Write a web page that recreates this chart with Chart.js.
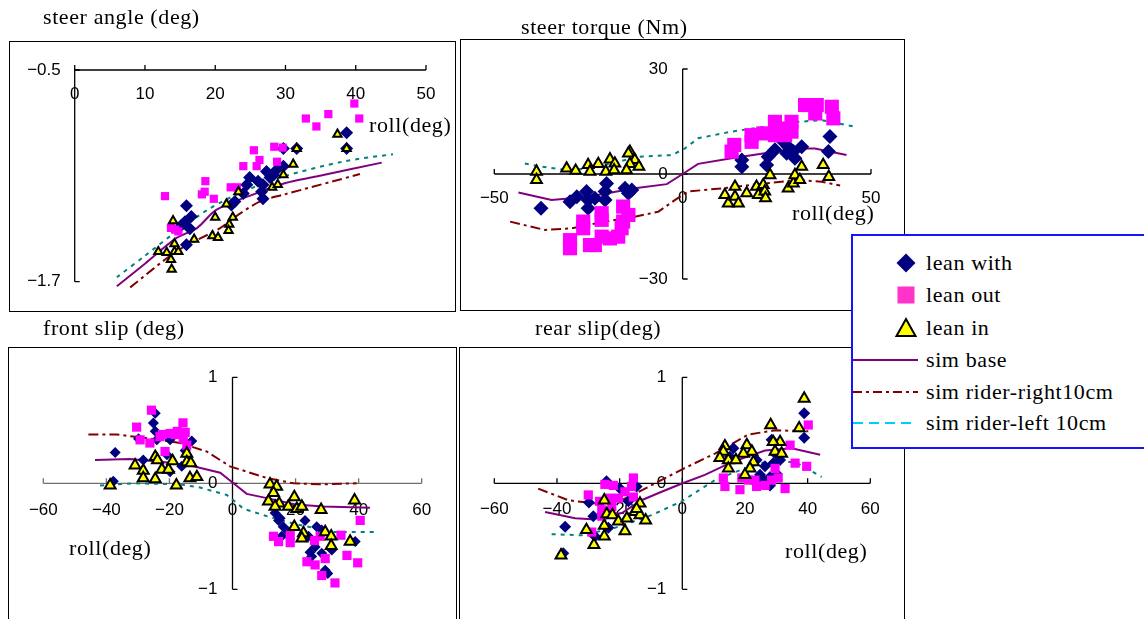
<!DOCTYPE html>
<html>
<head>
<meta charset="utf-8">
<script src="https://cdn.jsdelivr.net/npm/chart.js@4"></script>
<style>
body { margin: 0; width: 1144px; height: 619px; overflow: hidden; background: #fff; position: relative; font-family: "Liberation Serif", "Times New Roman", serif; }
canvas { position: absolute; left: 0; top: 0; }
.frame { position: absolute; border: 1px solid #000; box-sizing: border-box; }
.lbl { position: absolute; font-size: 22px; line-height: 24px; letter-spacing: 0.6px; white-space: nowrap; color: #000; z-index: 3; }
#legend { position: absolute; left: 851px; top: 234px; width: 300px; height: 215px; box-sizing: border-box; border: 2px solid #1414ff; background: #fff; z-index: 5; }
.row { position: absolute; left: 0; width: 300px; height: 32px; }
.row svg { position: absolute; left: 0; top: 0; }
.row span { position: absolute; left: 73px; top: 0; line-height: 32px; font-size: 22px; letter-spacing: 0.6px; white-space: nowrap; }
</style>
</head>
<body>
<div class="frame" style="left:9px;top:41px;width:447px;height:271px"></div>
<div class="frame" style="left:460px;top:39px;width:445px;height:272px"></div>
<div class="frame" style="left:8px;top:347px;width:449px;height:300px"></div>
<div class="frame" style="left:459px;top:347px;width:446px;height:300px"></div>

<canvas id="steerAngle" width="1144" height="619"></canvas>
<canvas id="steerTorque" width="1144" height="619"></canvas>
<canvas id="frontSlip" width="1144" height="619"></canvas>
<canvas id="rearSlip" width="1144" height="619"></canvas>

<div class="lbl" style="left:43px;top:5px">steer angle (deg)</div>
<div class="lbl" style="left:521px;top:15px">steer torque (Nm)</div>
<div class="lbl" style="left:43px;top:316px">front slip (deg)</div>
<div class="lbl" style="left:535px;top:316px">rear slip(deg)</div>
<div class="lbl" style="left:369px;top:113px">roll(deg)</div>
<div class="lbl" style="left:792px;top:201px">roll(deg)</div>
<div class="lbl" style="left:69px;top:536px">roll(deg)</div>
<div class="lbl" style="left:785px;top:539px">roll(deg)</div>

<div id="legend">
  <div class="row" style="top:11px"><svg width="70" height="32"><polygon points="53,6.5 62.5,16 53,25.5 43.5,16" fill="#000080"/></svg><span>lean with</span></div>
  <div class="row" style="top:43px"><svg width="70" height="32"><rect x="44.5" y="7.5" width="17" height="17" fill="#ff33cc"/></svg><span>lean out</span></div>
  <div class="row" style="top:76px"><svg width="70" height="32"><polygon points="53,7 62.5,24 43.5,24" fill="#ffff00" stroke="#000" stroke-width="2"/></svg><span>lean in</span></div>
  <div class="row" style="top:108px"><svg width="70" height="32"><line x1="0" y1="16" x2="65" y2="16" stroke="#800080" stroke-width="2"/></svg><span>sim base</span></div>
  <div class="row" style="top:140px"><svg width="70" height="32"><line x1="0" y1="16" x2="65" y2="16" stroke="#800000" stroke-width="2" stroke-dasharray="9,4,3,4"/></svg><span>sim rider-right10cm</span></div>
  <div class="row" style="top:171px"><svg width="70" height="32"><line x1="0" y1="16" x2="62" y2="16" stroke="#00ccff" stroke-width="2" stroke-dasharray="10,6"/></svg><span>sim rider-left 10cm</span></div>
</div>

<script>
// tick values
const steerXTicks = [0, 10, 20, 30, 40, 50];
const steerYTicks = [-0.5, -1.7];
const torqueXTicks = [-50, 0, 50];
const torqueYTicks = [30, 0, -30];
const slipXTicks = [-60, -40, -20, 0, 20, 40, 60];
const slipYTicks = [1, 0, -1];

// steer angle (deg) vs roll
const steerWith = [[15.9,-1.27],[16.6,-1.33],[15.7,-1.36],[16.4,-1.40],[15.9,-1.49],[15.2,-1.38],
  [24.9,-1.11],[24.5,-1.15],[24.0,-1.20],[22.8,-1.245],[22.3,-1.265],
  [27.3,-1.075],[27.8,-1.11],[26.8,-1.15],[26.6,-1.19],[26.8,-1.23],[28.75,-1.065],[29.7,-1.045],[28.3,-1.095],[26.1,-1.13],
  [29.7,-0.945],[31.6,-0.945],[38.7,-0.855],[38.7,-0.945]];
const steerOut = [[12.85,-1.215],[18.6,-1.13],[18.5,-1.19],[18.1,-1.205],[19.8,-1.23],[13.7,-1.395],[14.3,-1.405],[14.75,-1.415],
  [22.2,-1.165],[23.1,-1.165],[24.0,-1.045],[25.5,-0.955],[26.3,-1.01],[25.9,-1.045],[28.4,-0.935],[29.6,-0.94],[28.8,-1.02],
  [32.9,-0.775],[34.4,-0.82],[36.1,-0.75],[39.8,-0.69],[40.5,-0.775]];
const steerIn = [[14.0,-1.355],[20.0,-1.335],[21.6,-1.26],[23.3,-1.19],[22.5,-1.335],[22.0,-1.375],[21.9,-1.41],[19.6,-1.44],
  [20.4,-1.45],[17.0,-1.46],[14.2,-1.485],[11.9,-1.53],[13.1,-1.535],[14.2,-1.53],[14.75,-1.53],[13.7,-1.575],[13.8,-1.63],
  [28.1,-1.165],[28.9,-1.15],[29.7,-1.095],[31.1,-1.035],[31.6,-0.945],[37.4,-0.865],[38.7,-0.945]];
const steerBase = [[6.0,-1.726],[10,-1.598],[14.5,-1.452],[17.4,-1.396],[20.2,-1.292],[25.9,-1.198],[30,-1.141],[34.4,-1.104],[43.7,-1.025]];
const steerRight = [[7.9,-1.732],[14.5,-1.528],[20.7,-1.396],[23.3,-1.32],[26.4,-1.245],[29.7,-1.207],[40.6,-1.09]];
const steerLeft = [[6.0,-1.675],[10,-1.553],[14.5,-1.415],[19.3,-1.283],[24,-1.189],[29.7,-1.104],[38.2,-1.019],[45.3,-0.977]];

// steer torque (Nm) vs roll
const torqueWith = [[-37.6,-9.8],[-29.9,-7.9],[-28.1,-6.5],[-25.5,-5.0],[-25.1,-7.4],[-25.1,-9.8],[-23.3,-6.9],[-20.2,-2.7],
  [-20.6,-5.0],[-20.6,-7.4],[-15.3,-4.1],[-13.5,-4.6],[-14.4,-5.5],
  [15.7,4.0],[15.7,2.1],[22.3,2.6],[22.7,4.9],[24.5,6.9],[26.3,9.7],[27.6,5.9],[28.0,7.8],[29.8,4.5],[31.6,7.8],[29.4,6.4],[39.1,10.7],[38.7,6.4]];
const torqueOut = [[-29.9,-18.9],[-29.9,-21.2],[-26.4,-13.6],[-26.4,-15.5],[-24.6,-20.3],[-23.3,-20.3],[-21.5,-11.2],[-21.5,-13.1],
  [-21.5,-17.9],[-19.3,-18.4],[-17.1,-17.9],[-16.2,-15.5],[-15.8,-9.3],[-14.4,-11.7],[-15.8,-13.6],
  [13.7,8.3],[13.0,6.4],[18.3,11.1],[18.3,9.2],[21.4,11.6],[24.5,14.9],[25.8,13.0],[27.2,11.1],[24.5,11.1],[28.9,14.9],
  [28.9,12.1],[32.5,19.7],[35.6,19.7],[35.2,17.3],[39.6,19.2],[40.0,15.9]];
const torqueIn = [[-38.8,0.7],[-38.8,-1.7],[-30.8,1.6],[-28.4,0.95],[-25.1,2.6],[-24.6,0.7],[-22.4,2.9],[-20.4,0.7],[-19.3,4.2],
  [-18.0,3.0],[-18.2,1.1],[-14.0,6.4],[-14.4,5.9],[-12.7,4.0],[-14.0,2.9],[-11.6,2.1],[-14.9,1.1],
  [11.2,-6.0],[12.1,-8.4],[13.9,-3.6],[13.9,-6.5],[14.8,-8.4],[17.0,-5.5],[19.6,-3.6],[20.1,-6.0],[21.4,-3.1],[21.8,-5.0],
  [22.0,-6.9],[23.2,-0.3],[28.0,-4.1],[29.4,-2.7],[29.8,-0.3],[31.1,-1.7],[31.6,2.1],[37.3,2.6],[38.8,-0.8]];
const torqueBase = [[-43.6,-5.3],[-34.8,-7.4],[-25.1,-6.5],[-12.7,-4.1],[-4.2,-2.9],[0,0],[4.1,2.9],[13.0,4.5],[21.8,5.9],[30.7,7.3],[35.1,7.3],[43.5,5.4]];
const torqueRight = [[-45.8,-13.6],[-36.6,-16.0],[-29.5,-15.5],[-20.6,-13.6],[-12.7,-12.2],[-6.5,-10.8],[-2.0,-7.4],[1.5,-5.0],
  [10.4,-4.1],[21.8,-2.7],[30.7,-1.7],[36.9,-2.2],[41.8,-3.3]];
const torqueLeft = [[-41.9,3.0],[-37.4,2.1],[-29.5,0.95],[-20.6,2.6],[-11.8,4.9],[-2.9,5.4],[0.6,7.3],[4.1,10.2],[13.0,12.1],
  [21.8,13.5],[30.7,14.9],[36.9,15.4],[45.7,13.5]];

// front slip (deg) vs roll
const frontWith = [[-37.2,0.29],[-37.8,0.02],[-24.5,0.66],[-25.1,0.57],[-24.5,0.49],[-24.0,0.41],[-29.8,0.42],[-28.3,0.22],
  [-19.8,0.41],[-20.8,0.27],[-12.9,0.40],[-15.0,0.31],[-16.1,0.16],[-19.8,0.11],
  [14.6,-0.35],[16.1,-0.41],[17.7,-0.46],[15.6,-0.50],[23.0,-0.35],[24.1,-0.50],[26.7,-0.41],[28.3,-0.44],[26.2,-0.60],
  [28.3,-0.66],[29.4,-0.82],[30.2,-0.85],[25.1,-0.69],[38.9,-0.55],[13.5,-0.28],[31.5,-0.63],[24.6,-0.65],[15.1,-0.33]];
const frontOut = [[-25.7,0.69],[-30.4,0.53],[-29.3,0.41],[-26.2,0.38],[-22.2,0.46],[-21.4,0.30],[-19.8,0.47],[-17.5,0.49],
  [-15.7,0.57],[-15.0,0.48],[-23.0,0.44],[-15.6,0.42],[-18.2,0.46],[-14.5,0.36],
  [13.0,-0.50],[14.6,-0.55],[18.3,-0.49],[18.3,-0.56],[26.0,-0.54],[27.8,-0.50],[34.4,-0.49],[29.4,-0.71],[23.6,-0.74],
  [26.2,-0.77],[28.3,-0.87],[32.5,-0.94],[36.3,-0.68],[39.7,-0.75],[40.5,-0.35]];
const frontIn = [[-38.8,-0.02],[-30.9,0.17],[-28.3,0.12],[-28.3,0.05],[-24.5,0.25],[-23.8,0.22],[-24.5,0.04],[-22.4,0.13],
  [-20.3,0.13],[-19.0,0.21],[-17.8,-0.02],[-14.5,0.28],[-14.5,0.20],[-13.2,0.19],[-13.5,0.05],[-11.3,0.06],
  [11.9,-0.01],[14.0,-0.03],[13.0,-0.09],[11.4,-0.17],[14.8,-0.19],[13.5,-0.22],[19.6,-0.13],[17.7,-0.22],[20.4,-0.24],
  [22.0,-0.22],[28.1,-0.25],[38.7,-0.16],[19.6,-0.41],[22.5,-0.47],[22.0,-0.52],[29.4,-0.46],[31.3,-0.50],[31.3,-0.59],[37.3,-0.55]];
const frontBase = [[-43.6,0.22],[-32.5,0.23],[-21.9,0.20],[-12.4,0.16],[-3.9,0.10],[0.3,0],[4.5,-0.10],[10.9,-0.14],[19.9,-0.20],[28.8,-0.22],[43.6,-0.23]];
const frontRight = [[-45.7,0.46],[-36.7,0.46],[-28.3,0.43],[-16.6,0.38],[-8.2,0.30],[-0.8,0.16],[2.4,0.13],[10.9,0.05],[19.3,0.0],[27.8,-0.01],[39.4,0.0]];
const frontLeft = [[-42.0,-0.02],[-31.4,0.0],[-16.6,-0.01],[-10.3,-0.04],[-1.8,-0.11],[3.5,-0.24],[10.9,-0.31],[19.3,-0.38],[32.0,-0.46],[45.2,-0.46]];

// rear slip (deg) vs roll
const rearWith = [[-37.4,-0.41],[-38.0,-0.66],[-29.8,-0.18],[-28.4,-0.31],[-24.2,0.02],[-27.9,-0.50],[-19.9,-0.05],[-14.6,-0.03],
  [-17.2,-0.17],[-23.6,-0.42],
  [38.9,0.66],[38.9,0.43],[28.5,0.41],[31.2,0.22],[29.0,0.19],[26.4,0.16],[28.0,0.06],[30.1,0.09],[16.3,0.33],[15.2,0.25],
  [23.7,0.22],[24.8,0.08],[25.9,0.03],[28.0,-0.02],[29.6,0.28]];
const rearOut = [[-30.0,-0.11],[-24.7,-0.01],[-22.0,-0.02],[-15.6,0.05],[-16.2,-0.03],[-18.3,-0.08],[-23.1,-0.14],[-20.4,-0.14],
  [-25.7,-0.25],[-25.7,-0.31],[-15.6,-0.13],[-28.9,-0.46],[-26.4,-0.17],[-22.5,-0.22],
  [40.2,0.55],[34.4,0.36],[36.0,0.19],[39.7,0.16],[32.8,-0.05],[29.6,0.14],[28.5,0.03],[26.4,-0.02],[23.7,-0.03],[23.2,0.03],
  [18.4,-0.06],[13.6,-0.03],[13.1,0.05],[19.0,0.05],[21.1,0.03],[30.6,0.05]];
const rearIn = [[-38.7,-0.68],[-30.6,-0.44],[-28.2,-0.58],[-24.9,-0.16],[-24.1,-0.29],[-24.9,-0.40],[-24.9,-0.50],[-22.3,-0.30],
  [-20.4,-0.36],[-18.3,-0.45],[-17.7,-0.33],[-15.1,-0.27],[-13.5,-0.19],[-13.5,-0.30],[-11.7,-0.35],[-14.6,-0.24],
  [38.9,0.80],[37.3,0.52],[28.2,0.55],[31.2,0.39],[29.0,0.39],[29.6,0.30],[31.7,0.28],[20.6,0.36],[22.2,0.30],[19.5,0.28],
  [22.7,0.20],[21.6,0.14],[20.0,0.08],[13.6,0.35],[13.1,0.30],[12.0,0.24],[14.7,0.22],[14.7,0.14],[17.1,0.22]];
const rearBase = [[-43.8,-0.27],[-34.2,-0.33],[-28.9,-0.34],[-19.3,-0.28],[-13.0,-0.16],[-6.6,-0.08],[0.1,0],[7.2,0.08],[15.8,0.20],[26.4,0.31],[34.9,0.33],[44.0,0.27]];
const rearRight = [[-46.0,-0.05],[-36.4,-0.16],[-27.9,-0.19],[-19.3,-0.16],[-11.9,-0.05],[-0.2,0.13],[10.4,0.28],[21.1,0.46],[29.6,0.50],[40.2,0.49]];
const rearLeft = [[-41.7,-0.48],[-32.1,-0.49],[-21.5,-0.42],[-9.8,-0.30],[-0.2,-0.17],[10.4,0.03],[19.0,0.13],[26.4,0.20],[36.0,0.20],[44.5,0.06]];

const pts = a => a.map(([x, y]) => ({x, y}));
const fmt = v => String(v).replace('-', '\u2212');

// axes crossing inside the plot, like the excel charts
function crossAxes(cfg) {
  return {
    id: 'crossAxes',
    beforeDatasetsDraw(chart) {
      const ctx = chart.ctx;
      const sx = chart.scales.x, sy = chart.scales.y;
      const xa = sy.getPixelForValue(cfg.xAt);
      const ya = sx.getPixelForValue(0);
      ctx.save();
      ctx.lineWidth = 1.3;
      ctx.strokeStyle = cfg.xColor || '#000';
      ctx.beginPath();
      ctx.moveTo(sx.getPixelForValue(sx.min), xa);
      ctx.lineTo(sx.getPixelForValue(sx.max), xa);
      cfg.xTicks.forEach(v => {
        const p = sx.getPixelForValue(v);
        ctx.moveTo(p, xa);
        ctx.lineTo(p, xa - 5);
      });
      ctx.stroke();
      ctx.strokeStyle = '#000';
      ctx.beginPath();
      ctx.moveTo(ya, sy.getPixelForValue(sy.max));
      ctx.lineTo(ya, sy.getPixelForValue(sy.min));
      cfg.yTicks.forEach(v => {
        const p = sy.getPixelForValue(v);
        ctx.moveTo(ya, p);
        ctx.lineTo(ya + 5, p);
      });
      ctx.stroke();
      ctx.fillStyle = '#000';
      ctx.font = '17px "Liberation Sans", Arial, sans-serif';
      ctx.textAlign = 'center';
      ctx.textBaseline = 'middle';
      cfg.xTicks.forEach(v => ctx.fillText(fmt(v), sx.getPixelForValue(v), xa + cfg.xGap));
      ctx.textAlign = 'right';
      cfg.yTicks.forEach(v => ctx.fillText(fmt(v), ya - cfg.yGap, sy.getPixelForValue(v)));
      ctx.restore();
    }
  };
}

function makePanel(id, area, xr, yr, series, sz, axes) {
  const [withD, outD, inD, base, right, left] = series;
  const line = (label, data, color, dash) => ({
    label, data: pts(data), showLine: true, pointRadius: 0, borderColor: color,
    borderWidth: 2, borderDash: dash, borderCapStyle: 'butt', tension: sz.tension, clip: false, order: 3
  });
  new Chart(document.getElementById(id), {
    type: 'scatter',
    data: {
      datasets: [
        { label: 'lean with', data: pts(withD), pointStyle: 'rectRot', pointRadius: sz.d,
          pointBackgroundColor: '#000080', pointBorderWidth: 0, clip: false, order: 2 },
        { label: 'lean out', data: pts(outD), pointStyle: 'rect', pointRadius: sz.s,
          pointBackgroundColor: '#ff00ff', pointBorderWidth: 0, clip: false, order: 1 },
        { label: 'lean in', data: pts(inD), pointStyle: 'triangle', pointRadius: sz.t,
          pointBackgroundColor: '#ffff00', pointBorderColor: '#000', pointBorderWidth: 2, clip: false, order: 0 },
        line('sim base', base, '#800080', []),
        line('sim rider-right10cm', right, '#800000', [10, 4, 3, 4]),
        line('sim rider-left 10cm', left, '#008080', [4, 5])
      ]
    },
    options: {
      responsive: false,
      animation: false,
      layout: { padding: { left: area[0], top: area[1], right: 1144 - area[2], bottom: 619 - area[3] } },
      scales: {
        x: { type: 'linear', min: xr[0], max: xr[1], display: false },
        y: { type: 'linear', min: yr[0], max: yr[1], display: false }
      },
      plugins: { legend: { display: false }, tooltip: { enabled: false } }
    },
    plugins: [crossAxes(axes)]
  });
}

makePanel('steerAngle', [74.7, 70, 426, 281.7], [0, 50], [-1.7, -0.5],
  [steerWith, steerOut, steerIn, steerBase, steerRight, steerLeft],
  { d: 6.5, s: 5.8, t: 4.8, tension: 0.3 },
  { xAt: -0.5, xTicks: steerXTicks, yTicks: steerYTicks, xGap: 24, yGap: 14 });

makePanel('steerTorque', [494.3, 69, 871, 279], [-50, 50], [-30, 30],
  [torqueWith, torqueOut, torqueIn, torqueBase, torqueRight, torqueLeft],
  { d: 7.5, s: 10, t: 6.2, tension: 0 },
  { xAt: 0, xTicks: torqueXTicks, yTicks: torqueYTicks, xGap: 24, yGap: 15 });

makePanel('frontSlip', [43.3, 377.3, 421.7, 589.3], [-60, 60], [-1, 1],
  [frontWith, frontOut, frontIn, frontBase, frontRight, frontLeft],
  { d: 5.5, s: 6.5, t: 6.3, tension: 0 },
  { xAt: 0, xTicks: slipXTicks, yTicks: slipYTicks, xGap: 27, yGap: 15, xColor: '#707070' });

makePanel('rearSlip', [494.3, 377.3, 870.3, 589.3], [-60, 60], [-1, 1],
  [rearWith, rearOut, rearIn, rearBase, rearRight, rearLeft],
  { d: 6, s: 6.5, t: 6.3, tension: 0 },
  { xAt: 0, xTicks: slipXTicks, yTicks: slipYTicks, xGap: 26.5, yGap: 16 });
</script>
</body>
</html>
